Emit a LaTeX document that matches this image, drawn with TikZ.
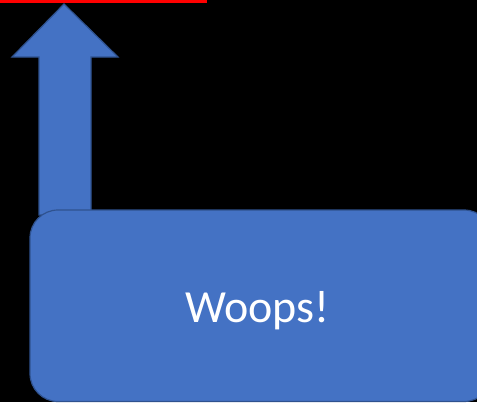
\documentclass[tikz,border=0pt]{standalone}
\usepackage{fontspec}
\setmainfont{Carlito}
\usepackage{xcolor}
\usepackage{tikz}
\usetikzlibrary{positioning}
\definecolor{boxblue}{HTML}{4472C4}
\definecolor{edgeblue}{HTML}{2F528F}
\tikzset{
  shapefill/.style={fill=boxblue, draw=edgeblue, line width=1.2pt},
  mainbox/.style={shapefill, rectangle, rounded corners=28pt, minimum width=462pt, minimum height=191.5pt, inner sep=0pt},
  boxtext/.style={text=white, inner sep=0pt, font=\fontsize{46}{50}\selectfont},
  redline/.style={draw=red, line width=3pt}
}
\begin{document}
\begin{tikzpicture}[x=1pt,y=-1pt]
\useasboundingbox (0,0) rectangle (477,402);
\clip (0,0) rectangle (477,402);
\fill[black] (0,0) rectangle (477,402);
\draw[redline] (0,1.5) -- (207,1.5);
% upward arrow
\draw[shapefill] (39,215) -- (39,57) -- (12,57) -- (64,4) -- (118,57) -- (91,57) -- (91,215) -- cycle;
\node[mainbox] (box) at (261,305.75) {};
\node[boxtext, anchor=base] (woops) at (257.5,322) {Woops!};
\end{tikzpicture}
\end{document}
